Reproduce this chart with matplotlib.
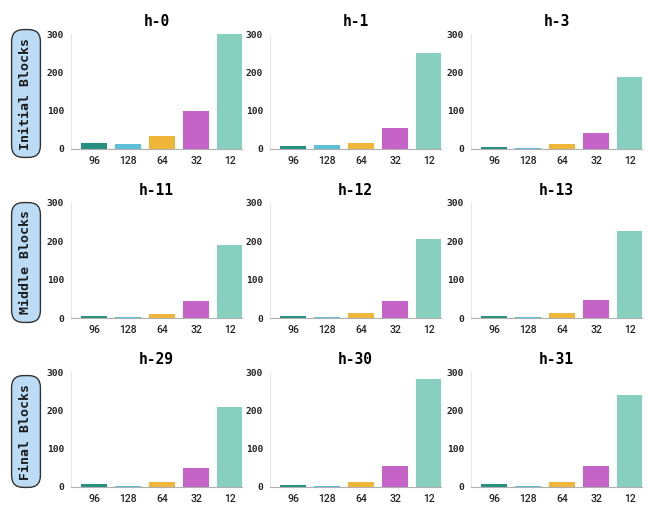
import numpy as np
import matplotlib
matplotlib.use("Agg")
import matplotlib.pyplot as plt

# data
categories = ["96", "128", "64", "32", "12"]
bar_colors = ["#24907f", "#5cc0d8", "#f0b63a", "#c563c8", "#87cfbe"]

heads = ["h-0", "h-1", "h-3",
         "h-11", "h-12", "h-13",
         "h-29", "h-30", "h-31"]
values = [
    [15, 13, 33, 98, 300],
    [8, 10, 16, 54, 251],
    [5, 3, 12, 43, 189],
    [5, 3, 11, 44, 191],
    [5, 3, 12, 44, 207],
    [5, 2, 12, 47, 227],
    [7, 3, 14, 50, 209],
    [6, 3, 14, 55, 281],
    [7, 3, 14, 54, 239],
]
row_labels = ["Initial Blocks", "Middle Blocks", "Final Blocks"]

W, H = 648, 513
fig = plt.figure(figsize=(W / 100, H / 100), dpi=100)

col_left = [71, 270, 471]
row_top = [34, 203, 372]
ax_w, ax_h = 171, 115

mono = "DejaVu Sans Mono"
x = np.arange(len(categories))

for i, (name, vals) in enumerate(zip(heads, values)):
    r, c = divmod(i, 3)
    ax = fig.add_axes([col_left[c] / W, 1 - (row_top[r] + ax_h) / H, ax_w / W, ax_h / H])
    ax.bar(x, vals, width=0.76, color=bar_colors)
    ax.set_xlim(-0.68, 4.35)
    ax.set_ylim(0, 300)
    ax.set_yticks([0, 100, 200, 300])
    ax.set_xticks(x)
    ax.set_xticklabels(categories, fontfamily="Roboto", fontweight="medium", fontsize=7.5, color="#222222")
    for lab in ax.get_yticklabels():
        lab.set_fontfamily(mono)
        lab.set_fontweight("bold")
        lab.set_fontsize(6.8)
        lab.set_color("#222222")
    ax.tick_params(axis="both", length=0)
    ax.tick_params(axis="y", pad=5)
    ax.tick_params(axis="x", pad=5)
    ax.spines["top"].set_visible(False)
    ax.spines["right"].set_visible(False)
    ax.spines["left"].set_color("#e6e6e6")
    ax.spines["bottom"].set_color("#b0b0b0")
    ax.set_title(name, fontfamily=mono, fontweight="bold", fontsize=10.5, pad=6)

    if c == 0:
        fig.text(26 / W, 1 - (row_top[r] + ax_h / 2 + 2) / H, row_labels[r],
                 rotation=90, ha="center", va="center",
                 fontfamily=mono, fontweight="bold", fontsize=9.5, color="#1a1a1a",
                 bbox=dict(boxstyle="round,pad=0.6,rounding_size=0.9",
                           facecolor="#bcdcf6", edgecolor="#333333", linewidth=1))

fig.savefig("out.png", dpi=100)
